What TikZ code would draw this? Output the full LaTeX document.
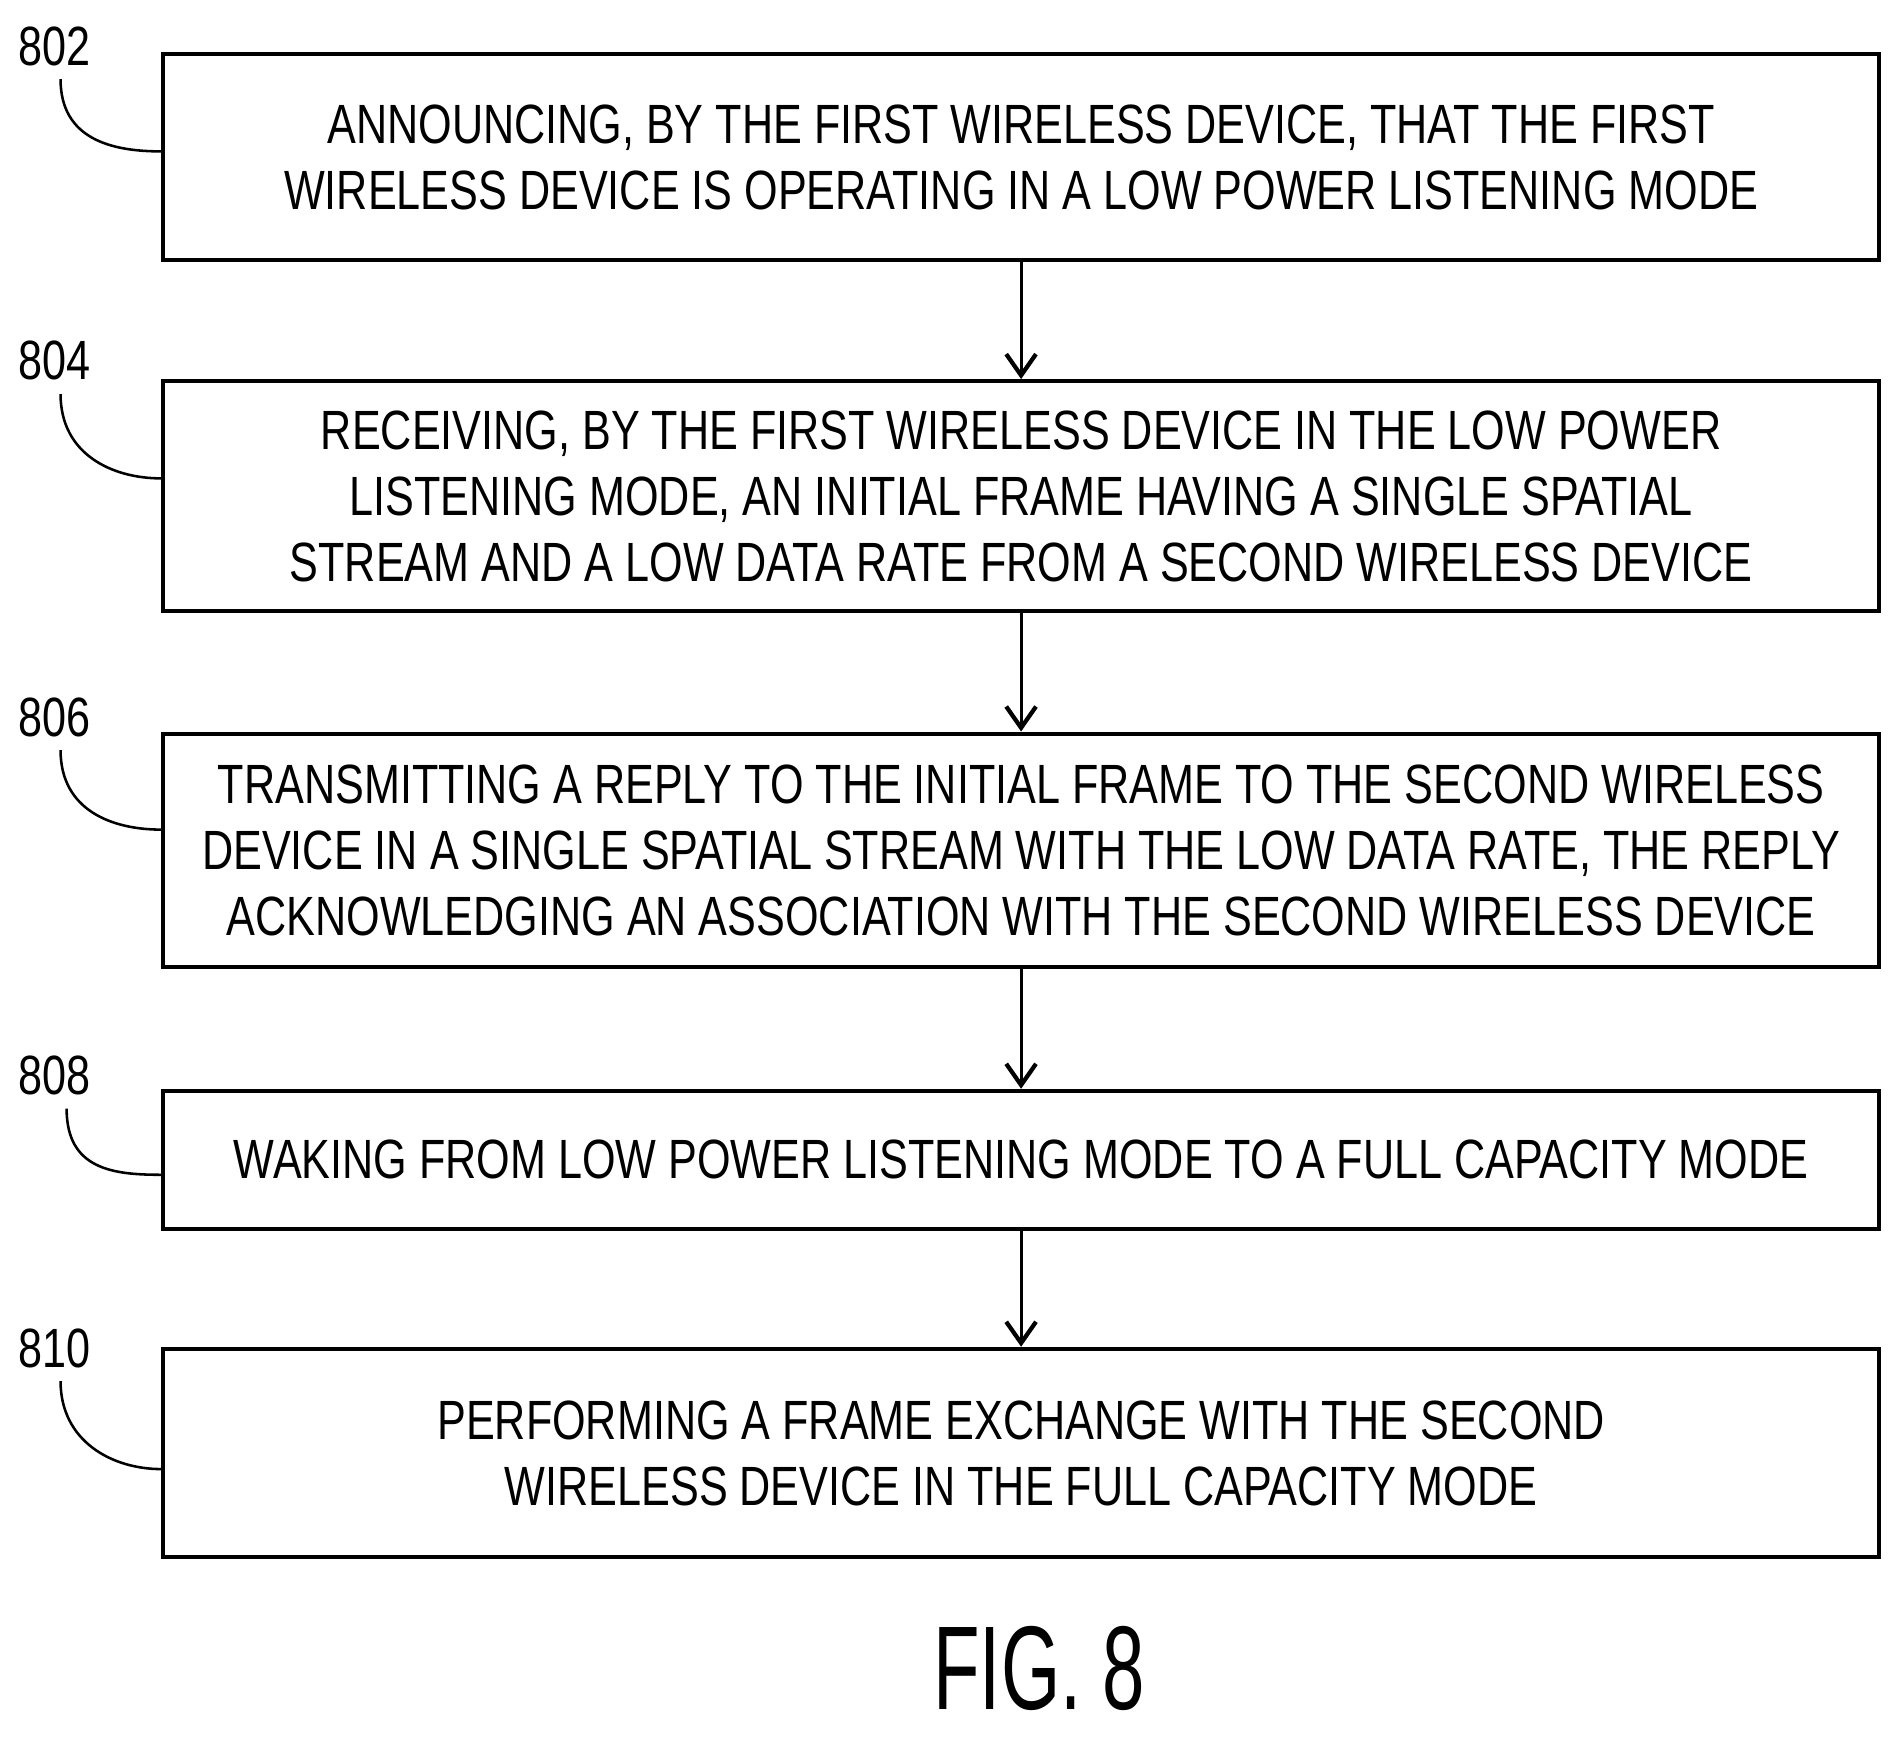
\documentclass[tikz,border=0pt]{standalone}
\usepackage{fontspec}
\setmainfont{Liberation Sans}[FakeStretch=0.78]
\usetikzlibrary{arrows.meta}
\begin{document}
\begin{tikzpicture}[x=0.02cm,y=-0.02cm,
  box/.style={draw,line width=2pt,minimum width=28.34cm,anchor=north west,inner sep=0pt,align=center,font=\fontsize{26}{31}\selectfont},
  lab/.style={font=\fontsize{26}{30}\selectfont},
  arr/.style={line width=1.5pt,-{Straight Barb[length=10pt,width=14pt,line width=2pt]}},
  lead/.style={line width=1.2pt}]
\useasboundingbox (0,0) rectangle (1568,1434);
\node[box,minimum height=3.4cm] (b1) at (133,43) {ANNOUNCING, BY THE FIRST WIRELESS DEVICE, THAT THE FIRST\\WIRELESS DEVICE IS OPERATING IN A LOW POWER LISTENING MODE};
\node[box,minimum height=3.8cm] (b2) at (133,313) {RECEIVING, BY THE FIRST WIRELESS DEVICE IN THE LOW POWER\\LISTENING MODE, AN INITIAL FRAME HAVING A SINGLE SPATIAL\\STREAM AND A LOW DATA RATE FROM A SECOND WIRELESS DEVICE};
\node[box,minimum height=3.86cm] (b3) at (133,604) {TRANSMITTING A REPLY TO THE INITIAL FRAME TO THE SECOND WIRELESS\\DEVICE IN A SINGLE SPATIAL STREAM WITH THE LOW DATA RATE, THE REPLY\\ACKNOWLEDGING AN ASSOCIATION WITH THE SECOND WIRELESS DEVICE};
\node[box,minimum height=2.28cm] (b4) at (133,899) {WAKING FROM LOW POWER LISTENING MODE TO A FULL CAPACITY MODE};
\node[box,minimum height=3.44cm] (b5) at (133,1112) {PERFORMING A FRAME EXCHANGE WITH THE SECOND\\WIRELESS DEVICE IN THE FULL CAPACITY MODE};
\draw[arr] (b1) -- (b2);
\draw[arr] (b2) -- (b3);
\draw[arr] (b3) -- (b4);
\draw[arr] (b4) -- (b5);
\node[lab] (l1) at (45,38) {802};
\node[lab] (l2) at (45,298) {804};
\node[lab] (l3) at (45,592) {806};
\node[lab] (l4) at (45,888) {808};
\node[lab] (l5) at (45,1113) {810};
\draw[lead] (l1.south) ++(5,5) .. controls +(0,50) and +(-40,0) .. (b1.west |- 0,125);
\draw[lead] (l2.south) ++(5,5) .. controls +(0,50) and +(-40,0) .. (b2.west |- 0,395);
\draw[lead] (l3.south) ++(5,5) .. controls +(0,50) and +(-40,0) .. (b3.west |- 0,685);
\draw[lead] (l4.south) ++(10,5) .. controls +(0,50) and +(-40,0) .. (b4.west |- 0,970);
\draw[lead] (l5.south) ++(5,5) .. controls +(0,50) and +(-40,0) .. (b5.west |- 0,1213);
\node[font=\fontsize{56}{62}\selectfont,xscale=0.82,inner sep=0pt] (fig) at (858,1378) {FIG. 8};
\end{tikzpicture}
\end{document}
